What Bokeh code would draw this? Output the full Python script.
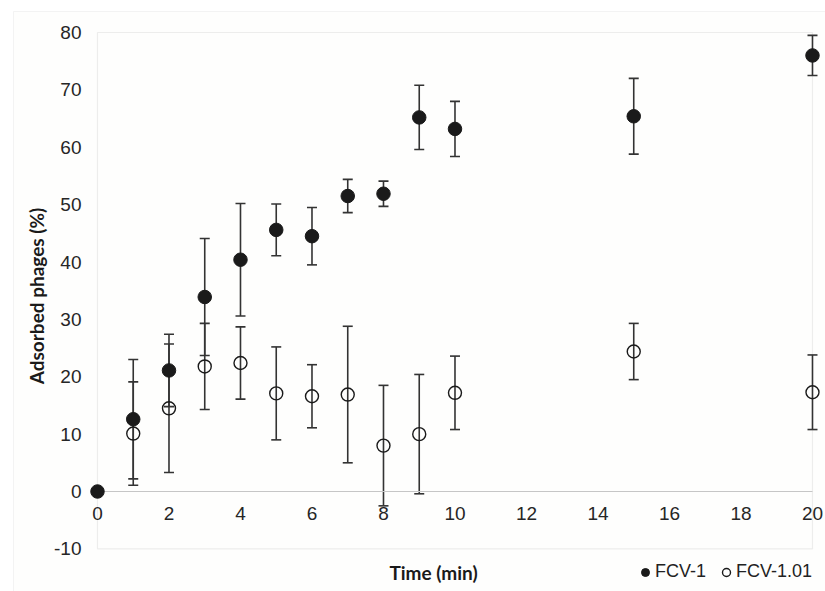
from bokeh.plotting import figure
from bokeh.models import (ColumnDataSource, Whisker, TeeHead, FixedTicker, Legend,
                          LegendItem, Label, BoxAnnotation)
from bokeh.embed import file_html
from bokeh.resources import INLINE

# ---- data ----
time_fcv1 = [0, 1, 2, 3, 4, 5, 6, 7, 8, 9, 10, 15, 20]
fcv1 = [0, 12.6, 21.1, 33.9, 40.4, 45.6, 44.5, 51.5, 51.9, 65.2, 63.2, 65.4, 76.0]
fcv1_err = [0, 10.4, 6.3, 10.2, 9.8, 4.5, 5.0, 2.9, 2.2, 5.6, 4.8, 6.6, 3.5]

time_fcv101 = [1, 2, 3, 4, 5, 6, 7, 8, 9, 10, 15, 20]
fcv101 = [10.1, 14.5, 21.8, 22.4, 17.1, 16.6, 16.9, 8.0, 10.0, 17.2, 24.4, 17.3]
fcv101_err = [9.0, 11.2, 7.5, 6.3, 8.1, 5.5, 11.9, 10.5, 10.4, 6.4, 4.9, 6.5]

x_ticks = [0, 2, 4, 6, 8, 10, 12, 14, 16, 18, 20]
y_ticks = [-10, 0, 10, 20, 30, 40, 50, 60, 70, 80]
series_names = ["FCV-1", "FCV-1.01"]

src1 = ColumnDataSource(dict(x=time_fcv1, y=fcv1,
                             lo=[v - e for v, e in zip(fcv1, fcv1_err)],
                             hi=[v + e for v, e in zip(fcv1, fcv1_err)]))
src2 = ColumnDataSource(dict(x=time_fcv101, y=fcv101,
                             lo=[v - e for v, e in zip(fcv101, fcv101_err)],
                             hi=[v + e for v, e in zip(fcv101, fcv101_err)]))

BG = "#fdfdfb"
GRID = "#c6c6c6"
INK = "#1a1a1a"

# frame covers the whole canvas; axes are placed at fixed locations inside it
p = figure(width=825, height=591, x_range=(-2.713, 20.364), y_range=(-17.43, 85.58),
           output_backend="svg", toolbar_location=None,
           min_border_left=0, min_border_right=0, min_border_top=0, min_border_bottom=0,
           background_fill_color="white", border_fill_color="white", outline_line_color=None)
p.grid.visible = False

# outer chart area
p.add_layout(BoxAnnotation(left=13, top=11, left_units="canvas", top_units="canvas",
                           fill_color=BG, line_color="#d9d9d9", line_width=1, level="underlay"))
# plot box and zero line
p.add_layout(BoxAnnotation(left=x_ticks[0], right=x_ticks[-1], bottom=y_ticks[0], top=y_ticks[-1],
                           fill_alpha=0, line_color=GRID, line_width=1.2, level="underlay"))
p.segment(x0=[x_ticks[0]], x1=[x_ticks[-1]], y0=[0], y1=[0], line_color=GRID, line_width=1.2)

# axes
xa = p.xaxis[0]
xa.fixed_location = 0
xa.ticker = FixedTicker(ticks=x_ticks)
xa.axis_line_color = None
xa.major_tick_line_color = None
xa.minor_tick_line_color = None
xa.major_tick_out = 0
xa.major_tick_in = 0
xa.major_label_standoff = 16
xa.major_label_text_font = "Liberation Sans"
xa.major_label_text_font_size = "19px"
xa.major_label_text_color = "#262626"

ya = p.yaxis[0]
ya.fixed_location = 0
ya.ticker = FixedTicker(ticks=y_ticks)
ya.major_label_overrides = {t: str(t) for t in y_ticks}
ya.axis_line_color = None
ya.major_tick_line_color = None
ya.minor_tick_line_color = None
ya.major_tick_out = 0
ya.major_tick_in = 0
ya.major_label_standoff = 16
ya.major_label_text_font = "Liberation Sans"
ya.major_label_text_font_size = "19px"
ya.major_label_text_color = "#262626"
ya.axis_label = "Adsorbed phages (%)"
ya.axis_label_text_font = "Lato"
ya.axis_label_text_font_style = "bold"
ya.axis_label_text_font_size = "19px"
ya.axis_label_text_color = INK
ya.axis_label_standoff = 3

# markers
r1 = p.scatter("x", "y", source=src1, size=13.5, marker="circle", fill_color=INK, line_color=INK)
r2 = p.scatter("x", "y", source=src2, size=13, marker="circle", fill_alpha=0,
               line_color=INK, line_width=1.4)

# error bars
for s in (src1, src2):
    p.add_layout(Whisker(source=s, base="x", lower="lo", upper="hi",
                         line_color="#333333", line_width=1.6,
                         upper_head=TeeHead(size=10, line_color="#333333", line_width=1.6),
                         lower_head=TeeHead(size=10, line_color="#333333", line_width=1.6)))

# x axis title
p.add_layout(Label(x=9.4, y=-14.1, text="Time (min)", text_align="center", text_baseline="middle",
                   text_font="Lato", text_font_style="bold", text_font_size="19px",
                   text_color=INK))

legend = Legend(items=[LegendItem(label=series_names[0], renderers=[r1]),
                       LegendItem(label=series_names[1], renderers=[r2])],
                orientation="horizontal", location=(635, 9),
                glyph_width=20, glyph_height=20, label_standoff=-2, spacing=10,
                padding=0, margin=0, border_line_color=None, background_fill_alpha=0,
                label_text_font="Liberation Sans", label_text_font_size="18px",
                label_text_color="#222222")
p.add_layout(legend, "center")

open("out.html", "w").write(file_html(p, INLINE))
